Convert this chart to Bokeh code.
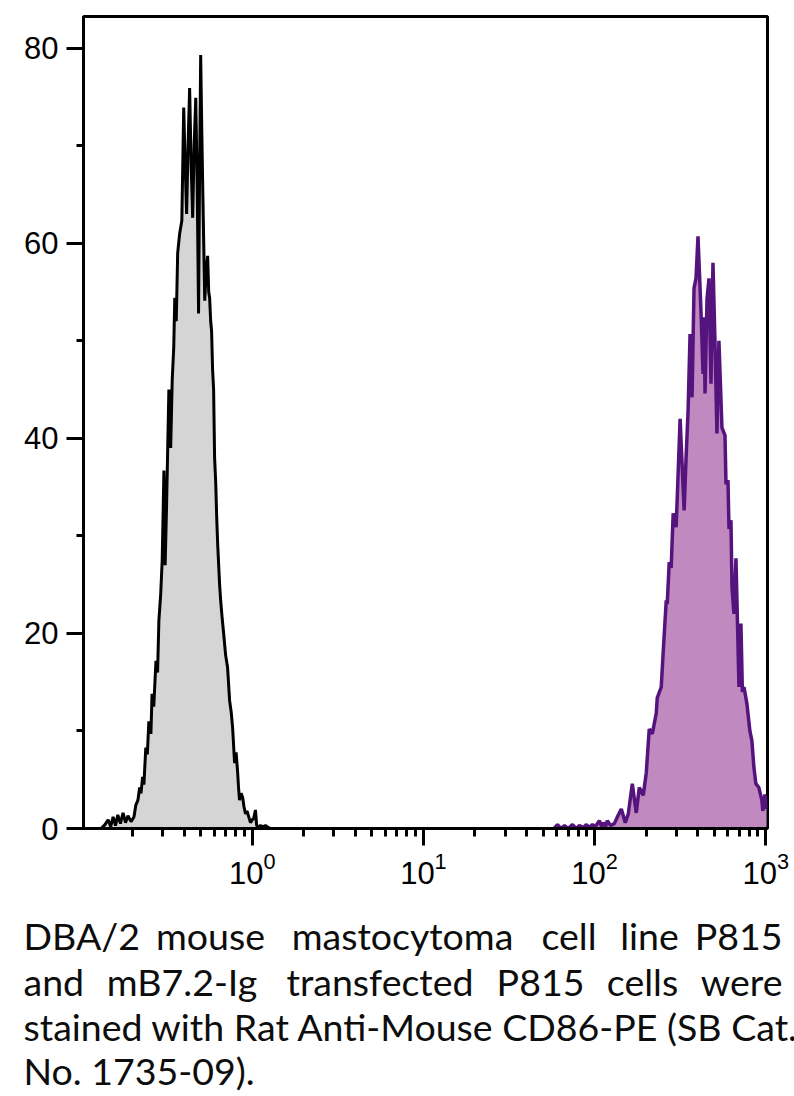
from bokeh.plotting import figure
from bokeh.models import Range1d, FixedTicker, LogTickFormatter
from bokeh.embed import file_html
from bokeh.resources import INLINE
from bokeh.core.properties import value

# ---------------- data ----------------
gray_x = [0.131, 0.138, 0.144, 0.149, 0.154, 0.159, 0.164, 0.170, 0.176, 0.182,
          0.188, 0.196, 0.204, 0.209, 0.215, 0.220, 0.224, 0.229, 0.233, 0.239,
          0.244, 0.249, 0.256, 0.260, 0.266, 0.274, 0.280, 0.285, 0.292, 0.298,
          0.305, 0.310, 0.316, 0.326, 0.334, 0.341, 0.348, 0.353, 0.360, 0.367,
          0.377, 0.388, 0.398, 0.406, 0.414, 0.422, 0.431, 0.440, 0.449, 0.458,
          0.468, 0.477, 0.486, 0.493, 0.500, 0.507, 0.514, 0.521, 0.528, 0.538,
          0.549, 0.557, 0.564, 0.572, 0.579, 0.587, 0.595, 0.603, 0.612, 0.620,
          0.629, 0.637, 0.645, 0.654, 0.668, 0.681, 0.699, 0.718, 0.738, 0.753,
          0.768, 0.789, 0.805, 0.821, 0.832, 0.843, 0.861, 0.879, 0.896, 0.914,
          0.932, 0.951, 0.977, 1.000, 1.018, 1.045, 1.060, 1.074, 1.117, 1.160,
          1.195, 1.240, 1.278]
gray_y = [0.0, 0.4, 0.9, 0.2, 1.2, 0.3, 1.4, 0.5, 1.6, 0.6,
          1.3, 0.7, 1.2, 2.4, 2.9, 4.2, 3.6, 5.3, 4.5, 8.3,
          7.6, 11.0, 9.7, 13.8, 12.5, 17.2, 16.0, 21.3, 24.0, 27.5,
          36.7, 27.0, 33.0, 45.0, 39.0, 46.0, 49.3, 54.4, 52.0, 59.0,
          61.0, 62.3, 73.9, 68.0, 63.0, 70.0, 75.9, 68.0, 62.6, 70.0,
          74.9, 66.0, 52.8, 68.0, 79.3, 72.0, 65.7, 60.0, 54.1, 57.0,
          58.7, 55.0, 54.4, 52.0, 51.0, 47.0, 45.0, 38.0, 35.5, 32.0,
          29.0, 27.0, 25.0, 23.4, 21.5, 20.0, 17.8, 16.5, 13.1, 12.0,
          10.4, 6.7, 7.8, 5.9, 4.2, 2.9, 3.6, 3.2, 2.2, 1.5,
          1.8, 1.3, 0.6, 0.9, 1.0, 1.9, 0.4, 0.1, 0.3, 0.2,
          0.3, 0.1, 0.0]

purple_x = [58.0, 60.7, 63.5, 66.7, 70.0, 74.3, 78.0, 81.5, 86.0, 89.6,
            93.0, 97.1, 101.0, 106.6, 110.0, 112.5, 116.0, 118.6, 124.0, 130.3,
            136.0, 143.2, 151.1, 157.3, 166.0, 175.1, 182.4, 192.4, 200.3, 208.5,
            217.2, 229.1, 232.2, 245.0, 251.8, 262.1, 265.6, 272.8, 280.1, 287.7,
            299.3, 303.4, 315.8, 333.3, 342.2, 351.5, 361.0, 370.8, 380.8, 391.1,
            401.7, 418.6, 429.9, 435.7, 441.6, 453.5, 465.8, 478.4, 491.3, 504.6,
            518.3, 532.3, 554.4, 577.5, 585.4, 601.2, 609.4, 625.9, 634.5, 651.6,
            669.3, 687.4, 696.8, 715.6, 730.0, 745.5, 775.4, 807.3, 829.2, 851.6,
            874.6, 910.6, 948.0, 960.9, 987.2, 1010.0]
purple_y = [0.0, 0.4, 0.0, 0.3, 0.0, 0.4, 0.0, 0.3, 0.1, 0.4,
            0.1, 0.4, 0.2, 0.8, 0.2, 0.6, 0.2, 0.8, 0.3, 0.5,
            1.2, 2.0, 0.6, 1.5, 4.6, 1.6, 4.2, 3.4, 5.7, 10.2,
            9.7, 11.8, 13.4, 14.5, 18.2, 23.4, 23.0, 27.3, 26.7, 32.3,
            30.9, 33.6, 42.0, 32.6, 38.0, 42.8, 50.7, 44.2, 55.4, 56.4,
            60.7, 52.8, 46.6, 52.4, 44.6, 54.3, 56.4, 45.6, 58.0, 50.0,
            40.5, 50.0, 41.1, 40.3, 35.3, 35.7, 30.7, 31.6, 24.7, 22.0,
            27.7, 19.0, 14.5, 21.0, 14.0, 14.5, 12.8, 10.0, 9.0, 6.3,
            4.6, 4.2, 2.9, 1.8, 3.5, 2.0]

y_major = [0, 20, 40, 60, 80]
y_minor = [10, 30, 50, 70]
x_major = [1, 10, 100, 1000]
x_minor = [m * 10 ** d for d in range(-1, 3) for m in range(2, 10)]

caption_line1 = ["DBA/2", "mouse", "mastocytoma", "cell", "line", "P815"]
caption_line2 = ["and", "mB7.2-Ig", "transfected", "P815", "cells", "were"]
caption_line3 = "stained with Rat Anti-Mouse CD86-PE (SB Cat."
caption_line4 = "No. 1735-09)."

# ---------------- layout constants ----------------
W = 794
B_LEFT, B_RIGHT, B_TOP, B_BOTTOM = 83, 27, 16, 67
FRAME_H = 812
CHART_H = B_TOP + FRAME_H + B_BOTTOM      # 895
CAP_H = 1096 - CHART_H                    # 201
TEXT_SHIFT = 13                           # renderer draws baseline this much lower

# ---------------- chart ----------------
p = figure(width=W, height=CHART_H, x_axis_type="log",
           x_range=Range1d(0.1034, 1023), y_range=Range1d(0, 83.24),
           output_backend="svg", toolbar_location=None,
           min_border_left=B_LEFT, min_border_right=B_RIGHT,
           min_border_top=B_TOP, min_border_bottom=B_BOTTOM)
p.xgrid.visible = False
p.ygrid.visible = False
p.background_fill_color = "white"
p.border_fill_color = "white"
p.outline_line_color = "black"
p.outline_line_width = 3

p.varea(x=gray_x, y1=0, y2=gray_y, fill_color="#D5D5D5")
p.line(gray_x, gray_y, line_color="black", line_width=3)
p.varea(x=purple_x, y1=0, y2=purple_y, fill_color="#C08AC0")
p.line(purple_x, purple_y, line_color="#55147D", line_width=3.5)

p.yaxis.ticker = FixedTicker(ticks=y_major, minor_ticks=y_minor)
p.xaxis.ticker = FixedTicker(ticks=x_major, minor_ticks=x_minor)
p.xaxis.formatter = LogTickFormatter()

for ax in (p.xaxis[0], p.yaxis[0]):
    ax.axis_line_width = 3
    ax.axis_line_color = "black"
    ax.major_tick_line_width = 3
    ax.minor_tick_line_width = 3
    ax.major_tick_in = 0
    ax.minor_tick_in = 0
    ax.major_tick_out = 17
    ax.major_label_text_font = "Liberation Sans"
    ax.major_label_text_font_size = "31px"
    ax.major_label_text_color = "black"
p.yaxis.minor_tick_out = 7
p.xaxis.minor_tick_out = 8
p.yaxis.major_label_standoff = 8
p.xaxis.major_label_standoff = 6

# ---------------- caption (separate root figure, x in page pixels) ----------------
c = figure(width=W, height=CAP_H,
           x_range=Range1d(0, W), y_range=Range1d(CAP_H, 0),
           output_backend="svg", toolbar_location=None, min_border=0,
           x_axis_location=None, y_axis_location=None)
c.xgrid.visible = False
c.ygrid.visible = False
c.outline_line_color = None
c.background_fill_color = "white"
c.border_fill_color = "white"

font = value("Lato")
fsize = value("37.5px")
base_py = [948, 993.5, 1039, 1083]
base = [b - CHART_H - TEXT_SHIFT for b in base_py]
left_px, right_px = 23, 782
mid1_px = [210, 402, 568.5, 649]
mid2_px = [181.5, 379.5, 540, 642]

def words(xs, ys, txt, align):
    c.text(x=xs, y=ys, text=txt, text_font=font, text_font_size=fsize,
           text_align=align, text_baseline="alphabetic", text_color="#0d0d0d")

words([left_px], [base[0]], [caption_line1[0]], "left")
words(mid1_px, [base[0]] * 4, caption_line1[1:5], "center")
words([right_px], [base[0]], [caption_line1[5]], "right")
words([left_px], [base[1]], [caption_line2[0]], "left")
words(mid2_px, [base[1]] * 4, caption_line2[1:5], "center")
words([right_px], [base[1]], [caption_line2[5]], "right")
words([left_px], [base[2]], [caption_line3], "left")
words([left_px], [base[3]], [caption_line4], "left")

open("out.html", "w").write(file_html([p, c], INLINE))
